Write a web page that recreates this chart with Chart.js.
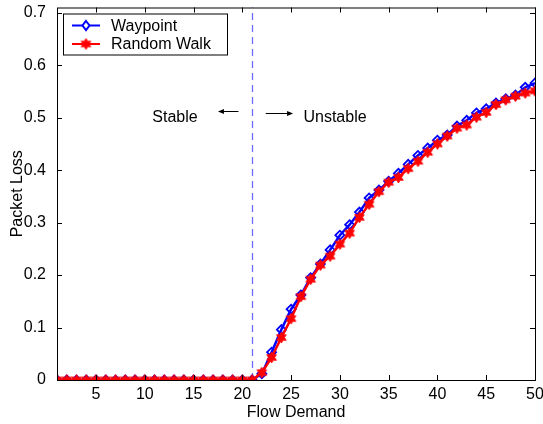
<!DOCTYPE html>
<html>
<head>
<meta charset="utf-8">
<script src="https://cdn.jsdelivr.net/npm/chart.js@4/dist/chart.umd.min.js"></script>
<style>
  html, body { margin: 0; padding: 0; background: #fff; }
  #wrap { width: 543px; height: 424px; }
</style>
</head>
<body>
<div id="wrap"><canvas id="chart"></canvas></div>
<script>
// data
const flowDemand = [1, 2, 3, 4, 5, 6, 7, 8, 9, 10, 11, 12, 13, 14, 15, 16, 17, 18, 19, 20,
  21, 22, 23, 24, 25, 26, 27, 28, 29, 30, 31, 32, 33, 34, 35, 36, 37, 38, 39, 40,
  41, 42, 43, 44, 45, 46, 47, 48, 49, 50];
const waypoint = [0, 0, 0, 0, 0, 0, 0, 0, 0, 0, 0, 0, 0, 0, 0, 0, 0, 0, 0, 0,
  0, 0.012, 0.053, 0.096, 0.135, 0.162, 0.195, 0.221, 0.248, 0.276,
  0.296, 0.320, 0.347, 0.362, 0.379, 0.394, 0.411, 0.428, 0.442, 0.457,
  0.467, 0.484, 0.495, 0.509, 0.517, 0.528, 0.536, 0.543, 0.558, 0.566];
const randomWalk = [0, 0, 0, 0, 0, 0, 0, 0, 0, 0, 0, 0, 0, 0, 0, 0, 0, 0, 0, 0,
  0, 0.014, 0.043, 0.081, 0.117, 0.159, 0.192, 0.219, 0.236, 0.259,
  0.280, 0.310, 0.335, 0.359, 0.377, 0.386, 0.403, 0.417, 0.434, 0.450,
  0.465, 0.480, 0.486, 0.501, 0.510, 0.525, 0.534, 0.541, 0.547, 0.551];
const xTicks = [5, 10, 15, 20, 25, 30, 35, 40, 45, 50];
const yTicks = [0, 0.1, 0.2, 0.3, 0.4, 0.5, 0.6, 0.7];
const threshold = 21;

const FONT = '"Liberation Sans", Arial, Helvetica, sans-serif';

// red six-pointed star marker
function makeStar(r, color) {
  const c = document.createElement('canvas');
  const s = Math.ceil(r * 2 + 4);
  c.width = s; c.height = s;
  const g = c.getContext('2d');
  g.translate(s / 2, s / 2);
  g.beginPath();
  for (let i = 0; i < 12; i++) {
    const rad = i % 2 === 0 ? r : r * 0.55;
    const a = -Math.PI / 2 + i * Math.PI / 6;
    if (i === 0) g.moveTo(rad * Math.cos(a), rad * Math.sin(a));
    else g.lineTo(rad * Math.cos(a), rad * Math.sin(a));
  }
  g.closePath();
  g.fillStyle = color;
  g.fill();
  g.lineWidth = 1;
  g.strokeStyle = color;
  g.stroke();
  return c;
}
const starImg = makeStar(5.5, '#ff0000');

const figurePlugin = {
  id: 'figure',
  beforeDatasetsDraw(chart) {
    const { ctx, chartArea: a, scales: { x } } = chart;
    // dashed stability threshold, under the curves
    const tx = Math.round(x.getPixelForValue(threshold)) + 0.5;
    ctx.save();
    ctx.beginPath();
    ctx.setLineDash([7, 5]);
    ctx.strokeStyle = '#6b6bff';
    ctx.lineWidth = 1.3;
    ctx.moveTo(tx, a.bottom);
    ctx.lineTo(tx, a.top);
    ctx.stroke();
    ctx.restore();
  },
  afterDraw(chart) {
    const { ctx, chartArea: a, scales: { x, y } } = chart;
    ctx.save();

    // axes box
    ctx.strokeStyle = '#000';
    ctx.lineWidth = 1;
    ctx.strokeRect(a.left + 0.5, a.top + 0.5, a.right - a.left, a.bottom - a.top);

    // inward ticks on all sides
    ctx.beginPath();
    xTicks.forEach(v => {
      const px = Math.round(x.getPixelForValue(v)) + 0.5;
      ctx.moveTo(px, a.bottom); ctx.lineTo(px, a.bottom - 5);
      ctx.moveTo(px, a.top); ctx.lineTo(px, a.top + 5);
    });
    yTicks.forEach(v => {
      const py = Math.round(y.getPixelForValue(v)) + 0.5;
      ctx.moveTo(a.left, py); ctx.lineTo(a.left + 5, py);
      ctx.moveTo(a.right, py); ctx.lineTo(a.right - 5, py);
    });
    ctx.stroke();

    // annotations
    ctx.fillStyle = '#000';
    ctx.font = '16px ' + FONT;
    ctx.textBaseline = 'middle';
    ctx.textAlign = 'center';
    const ty = y.getPixelForValue(0.5);
    ctx.fillText('Stable', x.getPixelForValue(13.1), ty);
    ctx.fillText('Unstable', x.getPixelForValue(29.5), ty);

    function arrow(x0, x1, yy) {
      const dir = Math.sign(x1 - x0);
      ctx.beginPath();
      ctx.strokeStyle = '#000';
      ctx.lineWidth = 1;
      ctx.moveTo(x0, yy); ctx.lineTo(x1 - dir * 3, yy);
      ctx.stroke();
      ctx.beginPath();
      ctx.moveTo(x1, yy);
      ctx.lineTo(x1 - dir * 6, yy - 2.5);
      ctx.lineTo(x1 - dir * 6, yy + 2.5);
      ctx.closePath();
      ctx.fillStyle = '#000';
      ctx.fill();
    }
    arrow(x.getPixelForValue(19.6), x.getPixelForValue(17.5), Math.round(y.getPixelForValue(0.512)) + 0.5);
    arrow(x.getPixelForValue(22.4), x.getPixelForValue(25.2), Math.round(y.getPixelForValue(0.508)) + 0.5);

    // axis titles
    ctx.fillText('Flow Demand', (a.left + a.right) / 2, 413);
    ctx.save();
    ctx.translate(18, (a.top + a.bottom) / 2);
    ctx.rotate(-Math.PI / 2);
    ctx.fillText('Packet Loss', 0, 0);
    ctx.restore();

    // legend inside the axes
    const lx = a.left + 6, lyTop = a.top + 6;
    ctx.fillStyle = '#fff';
    ctx.fillRect(lx, lyTop, 164, 41);
    ctx.strokeStyle = '#000';
    ctx.lineWidth = 1;
    ctx.strokeRect(lx + 0.5, lyTop + 0.5, 164, 41);
    chart.data.datasets.forEach((ds, i) => {
      const rowY = lyTop + 12 + i * 18.5;
      ctx.beginPath();
      ctx.strokeStyle = ds.borderColor;
      ctx.lineWidth = 2;
      ctx.moveTo(lx + 9, rowY); ctx.lineTo(lx + 37, rowY);
      ctx.stroke();
      const mx = lx + 23;
      if (ds.pointStyle === 'rectRot') {
        ctx.beginPath();
        ctx.moveTo(mx, rowY - 4.5); ctx.lineTo(mx + 3.5, rowY);
        ctx.lineTo(mx, rowY + 4.5); ctx.lineTo(mx - 3.5, rowY);
        ctx.closePath();
        ctx.fillStyle = '#fff';
        ctx.fill();
        ctx.stroke();
      } else {
        ctx.drawImage(starImg, mx - starImg.width / 2, rowY - starImg.height / 2);
      }
      ctx.fillStyle = '#000';
      ctx.textAlign = 'left';
      ctx.fillText(ds.label, lx + 48, rowY + 1);
    });
    ctx.restore();
  }
};

new Chart(document.getElementById('chart'), {
  type: 'line',
  data: {
    datasets: [{
      label: 'Waypoint',
      data: flowDemand.map((f, i) => ({ x: f, y: waypoint[i] })),
      borderColor: '#0000ff',
      backgroundColor: '#ffffff',
      borderWidth: 2.5,
      pointStyle: 'rectRot',
      pointRadius: 4.5,
      pointBorderWidth: 1.8,
      pointBorderColor: '#0000ff',
      pointBackgroundColor: 'rgba(255,255,255,0)',
      tension: 0,
      order: 2
    }, {
      label: 'Random Walk',
      data: flowDemand.map((f, i) => ({ x: f, y: randomWalk[i] })),
      borderColor: '#ff0000',
      backgroundColor: '#ff0000',
      borderWidth: 2.5,
      pointStyle: starImg,
      pointRadius: 5,
      tension: 0,
      order: 1
    }]
  },
  options: {
    responsive: true,
    maintainAspectRatio: false,
    animation: false,
    layout: { padding: { left: 0, right: 8, top: 5, bottom: 0 } },
    plugins: {
      legend: { display: false },
      tooltip: { enabled: false }
    },
    scales: {
      x: {
        type: 'linear',
        min: 1,
        max: 50,
        grid: { display: false },
        border: { display: false },
        afterBuildTicks: s => { s.ticks = xTicks.map(v => ({ value: v })); },
        afterFit: s => { s.height = 44; s.paddingLeft = 0; s.paddingRight = 0; },
        ticks: {
          color: '#000',
          padding: -3,
          maxRotation: 0,
          font: { family: FONT, size: 16 },
          callback: v => String(v)
        }
      },
      y: {
        min: 0,
        max: 0.71,
        grid: { display: false },
        border: { display: false },
        afterBuildTicks: s => { s.ticks = yTicks.map(v => ({ value: v })); },
        afterFit: s => { s.width = 57; s.paddingTop = 0; s.paddingBottom = 0; },
        ticks: {
          color: '#000',
          padding: 3,
          font: { family: FONT, size: 16 },
          callback: v => String(Math.round(v * 10) / 10)
        }
      }
    }
  },
  plugins: [figurePlugin]
});
</script>
</body>
</html>
